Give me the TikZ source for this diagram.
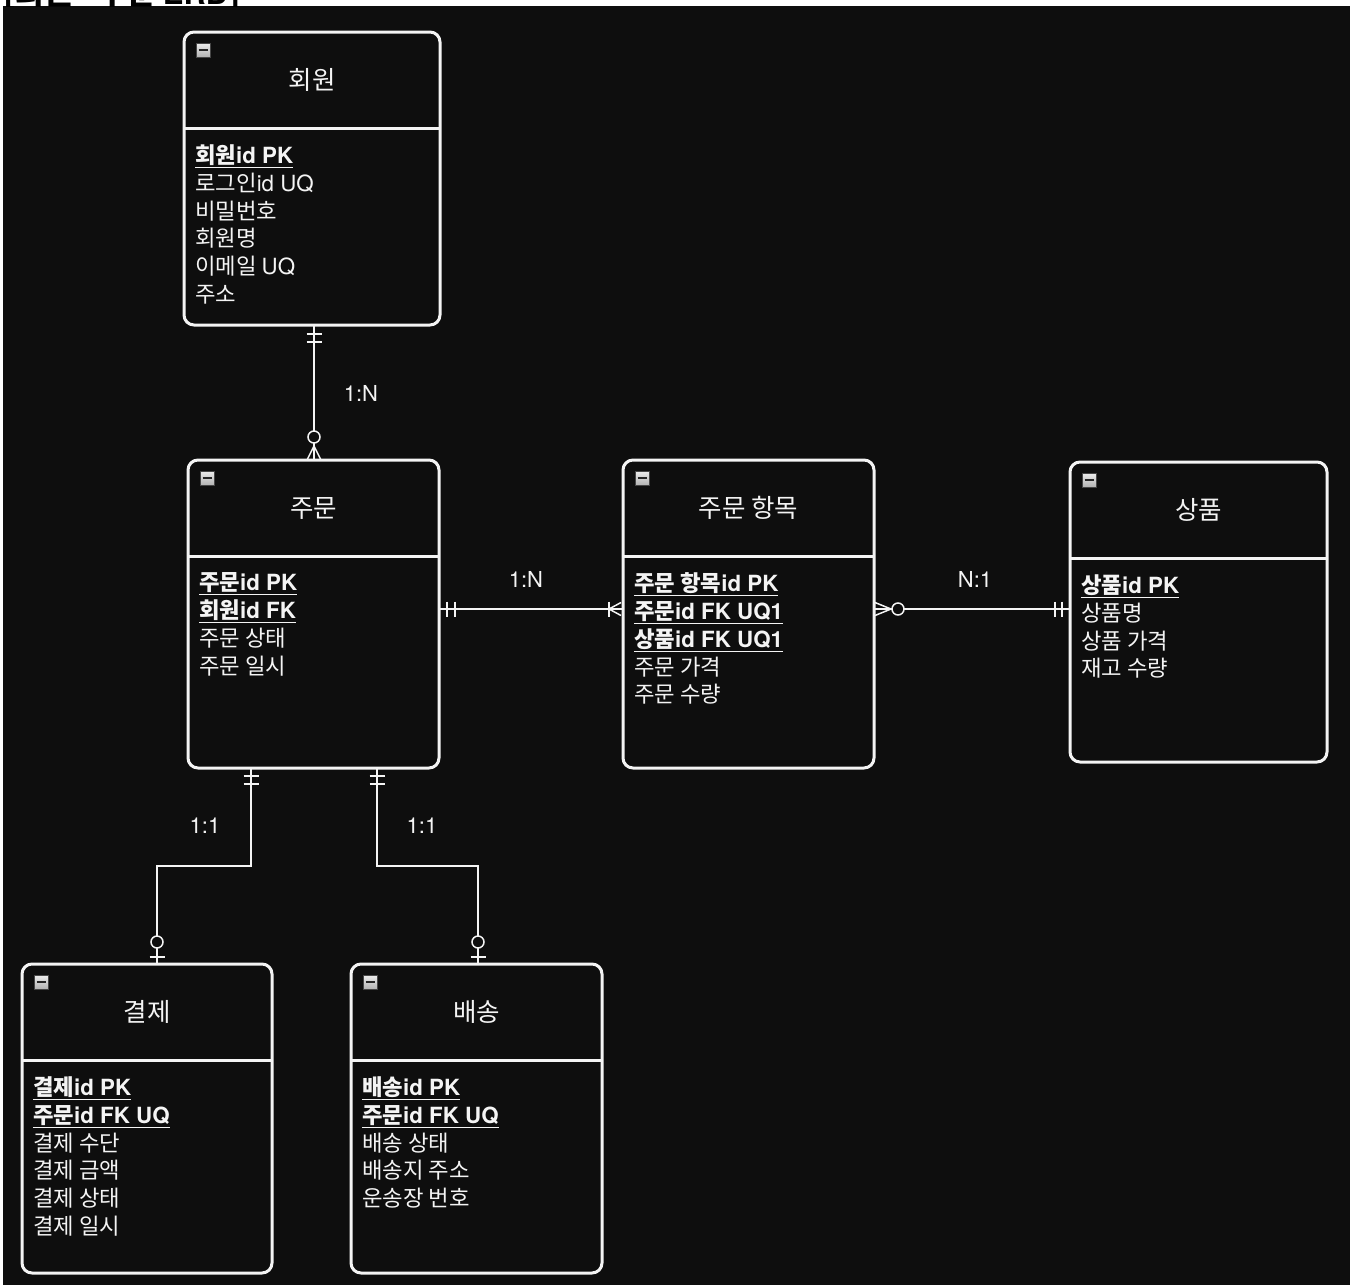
\documentclass[tikz,border=0pt]{standalone}
\usepackage{fontspec}
\setmainfont{Noto Sans CJK KR}
\newfontfamily\hv{TeX Gyre Heros}
\usetikzlibrary{calc}
\definecolor{bg}{HTML}{0E0E0E}
\definecolor{fg}{HTML}{F4F4F4}
\tikzset{
  entity/.style={draw=fg, line width=3pt, rounded corners=10pt, fill=bg, inner sep=0pt, outer sep=0pt},
  divider/.style={draw=fg, line width=3pt},
  etitle/.style={text=fg, font=\fontsize{25.5}{28}\selectfont, inner sep=0pt},
  eattr/.style={text=fg, font=\fontsize{22.3}{27.8}\selectfont, align=left, inner sep=0pt, anchor=north west},
  conn/.style={draw=fg, line width=1.5pt},
  ring/.style={draw=fg, line width=1.5pt, fill=bg},
  rel/.style={text=fg, font=\hv\fontsize{22}{26}\selectfont, inner sep=0pt},
  icon/.style={draw=gray!55!black, line width=0.8pt, top color=gray!15, bottom color=gray!60, minimum size=14pt, inner sep=0pt, outer sep=0pt},
  iconbar/.style={draw=black!85, line width=2pt},
}
\newcommand{\pkline}[1]{\underline{\textbf{#1}}}
\newcommand{\erbox}[6]{%
  \node[entity, minimum width=#3pt, minimum height=#4pt, anchor=north west] (#1) at #2 {};
  \draw[divider] ($(#1.north west)+(0,96.5)$) -- ($(#1.north east)+(0,96.5)$);
  \node[icon] (#1-icon) at ($(#1.north west)+(19,18)$) {};
  \draw[iconbar] ($(#1-icon.center)+(-4.5,0)$) -- ($(#1-icon.center)+(4.5,0)$);
  \node[etitle] (#1-title) at ($(#1.north)+(0,48)$) {#5};
  \node[eattr] (#1-attrs) at ($(#1.north west)+(11,112.5)$) {#6};
}
\begin{document}
\begin{tikzpicture}[x=1pt,y=-1pt]
\useasboundingbox (0,0) rectangle (1357,1285);
\fill[white] (0,0) rectangle (1357,1285);
\fill[bg] (3,6) rectangle (1350,1285);
\begin{scope}
  \clip (0,0) rectangle (300,6);
  \node[anchor=base west, inner sep=0pt, text=black, font=\bfseries\fontsize{31}{34}\selectfont] (toptitle) at (3,4) {[회원 - 주문 {\hv ERD}]};
\end{scope}

\erbox{hoewon}{(184,32)}{256}{293}{회원}{\pkline{회원{\hv id PK}}\\로그인{\hv id UQ}\\비밀번호\\회원명\\이메일 {\hv UQ}\\주소}
\erbox{jumun}{(188,460)}{251}{308}{주문}{\pkline{주문{\hv id PK}}\\\pkline{회원{\hv id FK}}\\주문 상태\\주문 일시}
\erbox{item}{(623,460)}{251}{308}{주문 항목}{\pkline{주문 항목{\hv id PK}}\\\pkline{주문{\hv id FK UQ1}}\\\pkline{상품{\hv id FK UQ1}}\\주문 가격\\주문 수량}
\erbox{product}{(1070,462)}{257}{300}{상품}{\pkline{상품{\hv id PK}}\\상품명\\상품 가격\\재고 수량}
\erbox{payment}{(22,964)}{250}{309}{결제}{\pkline{결제{\hv id PK}}\\\pkline{주문{\hv id FK UQ}}\\결제 수단\\결제 금액\\결제 상태\\결제 일시}
\erbox{delivery}{(351,964)}{251}{309}{배송}{\pkline{배송{\hv id PK}}\\\pkline{주문{\hv id FK UQ}}\\배송 상태\\배송지 주소\\운송장 번호}

% 회원 - 주문 (1:N)
\coordinate (c1a) at ($(hoewon.south)+(2,0)$);
\coordinate (c1b) at (c1a |- jumun.north);
\draw[conn] (c1a) -- (c1b);
\draw[conn] ($(c1a)+(-7.5,9)$) -- ($(c1a)+(7.5,9)$);
\draw[conn] ($(c1a)+(-7.5,17)$) -- ($(c1a)+(7.5,17)$);
\draw[conn] ($(c1b)+(-7,0)$) -- ($(c1b)+(0,-14)$) -- ($(c1b)+(7,0)$);
\draw[ring] ($(c1b)+(0,-23)$) circle (6);
\node[rel] (l1) at (361,393) {1:N};

% 주문 - 주문 항목 (1:N)
\coordinate (c2a) at ($(jumun.east)+(0,-5)$);
\coordinate (c2b) at (c2a -| item.west);
\draw[conn] (c2a) -- (c2b);
\draw[conn] ($(c2a)+(8,-7.5)$) -- ($(c2a)+(8,7.5)$);
\draw[conn] ($(c2a)+(16,-7.5)$) -- ($(c2a)+(16,7.5)$);
\draw[conn] ($(c2b)+(-14,-7.5)$) -- ($(c2b)+(-14,7.5)$);
\draw[conn] ($(c2b)+(-2,-6.5)$) -- ($(c2b)+(-14,0)$) -- ($(c2b)+(-2,6.5)$);
\node[rel] (l2) at (526,579) {1:N};

% 주문 항목 - 상품 (N:1)
\coordinate (c3a) at ($(item.east)+(0,-5)$);
\coordinate (c3b) at (c3a -| product.west);
\draw[conn] (c3a) -- (c3b);
\draw[conn] ($(c3a)+(1,-6.5)$) -- ($(c3a)+(17,0)$) -- ($(c3a)+(1,6.5)$);
\draw[ring] ($(c3a)+(24,0)$) circle (6);
\draw[conn] ($(c3b)+(-15,-7.5)$) -- ($(c3b)+(-15,7.5)$);
\draw[conn] ($(c3b)+(-8,-7.5)$) -- ($(c3b)+(-8,7.5)$);
\node[rel] (l3) at (975,579) {N:1};

% 주문 - 결제 (1:1)
\coordinate (c4a) at ($(jumun.south)+(-62.5,0)$);
\coordinate (c4b) at ($(payment.north)+(10,0)$);
\coordinate (c4m) at ($(c4a)!0.5!(c4b)$);
\draw[conn] (c4a) -- (c4a |- c4m) -- (c4b |- c4m) -- (c4b);
\draw[conn] ($(c4a)+(-7.5,8)$) -- ($(c4a)+(7.5,8)$);
\draw[conn] ($(c4a)+(-7.5,16)$) -- ($(c4a)+(7.5,16)$);
\draw[conn] ($(c4b)+(-7.5,-7)$) -- ($(c4b)+(7.5,-7)$);
\draw[ring] ($(c4b)+(0,-22)$) circle (6);
\node[rel] (l4) at (205,826) {1:1};

% 주문 - 배송 (1:1)
\coordinate (c5a) at ($(jumun.south)+(63.5,0)$);
\coordinate (c5b) at ($(delivery.north)+(1.5,0)$);
\coordinate (c5m) at ($(c5a)!0.5!(c5b)$);
\draw[conn] (c5a) -- (c5a |- c5m) -- (c5b |- c5m) -- (c5b);
\draw[conn] ($(c5a)+(-7.5,8)$) -- ($(c5a)+(7.5,8)$);
\draw[conn] ($(c5a)+(-7.5,16)$) -- ($(c5a)+(7.5,16)$);
\draw[conn] ($(c5b)+(-7.5,-7)$) -- ($(c5b)+(7.5,-7)$);
\draw[ring] ($(c5b)+(0,-22)$) circle (6);
\node[rel] (l5) at (422,826) {1:1};
\end{tikzpicture}
\end{document}
